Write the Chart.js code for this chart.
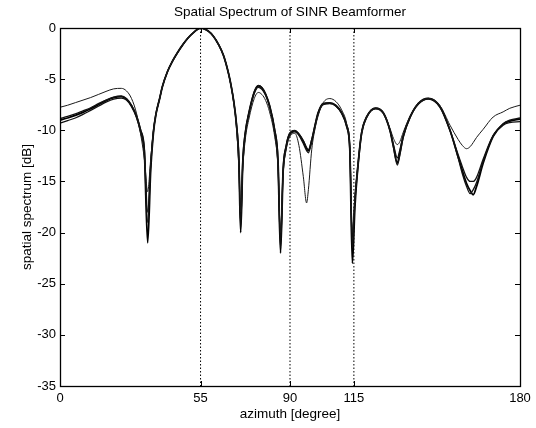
<!DOCTYPE html>
<html>
<head>
<meta charset="utf-8">
<script src="https://cdn.jsdelivr.net/npm/chart.js@4.4.1/dist/chart.umd.min.js"></script>
<style>
  html, body { margin: 0; padding: 0; background: #fff; }
  #wrap { width: 536px; height: 428px; position: relative; }
</style>
</head>
<body>
<div id="wrap"><canvas id="c" width="536" height="428"></canvas></div>
<script>
// ---- data ----
const chartTitle = 'Spatial Spectrum of SINR Beamformer';
const xLabel = 'azimuth [degree]';
const yLabel = 'spatial spectrum [dB]';
const xTickValues = [0, 55, 90, 115, 180];
const markerAngles = [55, 90, 115];

const azimuth = [
  0, 3, 6, 9, 12, 15, 18, 21, 24, 26,
  28, 30, 31.5, 33, 34.3, 35.5, 36.5, 37.5, 39, 40,
  42, 44, 46, 48, 50, 52, 54, 55, 56, 58,
  60, 62, 64, 66, 67, 68, 69, 70, 70.7, 71.5,
  72.5, 74, 76, 77.6, 79, 80.5, 82, 84, 85.3, 86.3,
  87.3, 88.5, 89.8, 91.9, 93.5, 95.2, 96.5, 97.2, 98.5, 100,
  101, 103, 105.6, 108, 110.2, 112.2, 113.4, 114.4, 115.4, 116.7,
  118, 120, 123.5, 126.5, 129.1, 130.5, 132, 133, 134.3, 137,
  140.2, 144.1, 148.7, 152.6, 155.8, 157.5, 159.1, 160.5, 161.7, 163,
  165.6, 169.5, 173.4, 176, 180
];

// thin curve
const spectrumA = [
  -7.75, -7.55, -7.3, -7.05, -6.8, -6.5, -6.2, -5.95, -5.9, -6.15,
  -6.9, -8.4, -10.3, -12.8, -16.0, -12.8, -10.2, -8.5, -6.9, -5.8,
  -4.3, -3.25, -2.4, -1.65, -1.0, -0.5, -0.1, 0, -0.05, -0.3,
  -0.8, -1.6, -2.7, -4.5, -5.8, -7.4, -9.6, -13.5, -18.0, -13.8,
  -10.9, -8.8, -6.9, -6.3, -6.5, -7.1, -8.2, -10.6, -13.5, -20.0,
  -14.3, -11.9, -10.7, -10.3, -11.5, -14.5, -17.1, -15.8, -11.9, -9.6,
  -8.6, -7.3, -6.9, -7.2, -8.0, -9.4, -11.6, -20.0, -16.5, -13.1,
  -10.3, -8.7, -7.85, -8.3, -9.8, -10.8, -11.4, -11.1, -10.2, -8.6,
  -7.4, -6.9, -7.6, -9.5, -10.9, -11.5, -11.8, -11.6, -11.2, -10.7,
  -9.9, -8.7, -8.2, -7.85, -7.55
];

// heavy group of curves
const spectrumB = [
  -9.0, -8.8, -8.55, -8.25, -7.9, -7.5, -7.1, -6.8, -6.7, -6.95,
  -7.6, -8.7, -10.0, -12.0, -21.0, -13.8, -10.4, -8.5, -6.9, -5.8,
  -4.3, -3.25, -2.4, -1.65, -1.0, -0.5, -0.1, 0, -0.05, -0.3,
  -0.8, -1.6, -2.7, -4.5, -5.7, -7.2, -9.3, -13.0, -20.0, -13.3,
  -10.3, -8.2, -6.3, -5.65, -5.85, -6.5, -7.6, -10.0, -13.0, -22.0,
  -14.0, -11.6, -10.4, -10.05, -10.4, -11.1, -11.8, -12.0, -11.0, -9.3,
  -8.3, -7.4, -7.35, -7.6, -8.3, -9.6, -11.8, -23.0, -17.5, -13.2,
  -10.3, -8.7, -7.85, -8.3, -10.0, -11.6, -13.2, -12.2, -10.6, -8.7,
  -7.4, -6.9, -7.7, -10.0, -12.6, -14.0, -15.2, -15.9, -16.3, -15.5,
  -13.2, -10.6, -9.4, -9.1, -8.9
];

const spectrumC = [
  -9.3, -9.05, -8.8, -8.45, -8.05, -7.65, -7.25, -6.95, -6.85, -7.05,
  -7.7, -8.8, -10.2, -12.4, -19.0, -13.5, -10.3, -8.5, -6.9, -5.8,
  -4.3, -3.25, -2.4, -1.65, -1.0, -0.5, -0.1, 0, -0.05, -0.3,
  -0.8, -1.6, -2.7, -4.5, -5.7, -7.2, -9.4, -13.4, -19.0, -13.5,
  -10.4, -8.3, -6.4, -5.8, -6.0, -6.6, -7.7, -10.2, -13.5, -21.0,
  -14.2, -11.7, -10.5, -10.15, -10.5, -11.3, -12.0, -12.2, -11.1, -9.4,
  -8.4, -7.5, -7.4, -7.65, -8.35, -9.7, -12.0, -21.5, -17.0, -13.3,
  -10.4, -8.75, -7.9, -8.35, -10.0, -11.4, -12.7, -11.9, -10.5, -8.7,
  -7.45, -6.95, -7.75, -10.0, -12.4, -13.6, -14.6, -15.0, -15.0, -14.6,
  -12.8, -10.5, -9.5, -9.25, -9.15
];

const spectrumD = [
  -8.85, -8.65, -8.4, -8.1, -7.8, -7.4, -7.05, -6.75, -6.65, -6.9,
  -7.55, -8.6, -9.9, -11.8, -18.0, -13.2, -10.1, -8.4, -6.85, -5.75,
  -4.3, -3.25, -2.4, -1.65, -1.0, -0.5, -0.1, 0, -0.05, -0.3,
  -0.8, -1.6, -2.7, -4.5, -5.7, -7.2, -9.2, -12.6, -19.5, -13.0,
  -10.2, -8.2, -6.2, -5.6, -5.8, -6.45, -7.55, -9.9, -12.8, -21.5,
  -13.8, -11.5, -10.3, -10.0, -10.35, -11.0, -11.7, -11.9, -10.9, -9.25,
  -8.3, -7.4, -7.3, -7.55, -8.25, -9.5, -11.6, -20.5, -16.5, -13.0,
  -10.2, -8.65, -7.8, -8.25, -9.95, -11.7, -13.4, -12.4, -10.7, -8.75,
  -7.35, -6.85, -7.65, -10.0, -12.7, -14.3, -15.5, -16.2, -15.8, -15.1,
  -13.0, -10.55, -9.35, -9.0, -8.8
];

const yMin = -35, yMax = 0, yStep = 5;

// ---- chart ----
const FONT = "'Liberation Sans', Arial, Helvetica, sans-serif";
const toPts = arr => azimuth.map((x, i) => ({ x: x, y: arr[i] }));

const curveStyle = (arr, w, col) => ({
  data: toPts(arr), borderColor: col, borderWidth: w, pointRadius: 0,
  cubicInterpolationMode: 'monotone', fill: false, order: 1
});

const datasets = [
  curveStyle(spectrumA, 1, '#1a1a1a'),
  curveStyle(spectrumC, 1.3, '#111'),
  curveStyle(spectrumD, 1.3, '#111'),
  curveStyle(spectrumB, 1.8, '#000')
];
markerAngles.forEach(a => {
  datasets.push({
    data: [{ x: a, y: yMax }, { x: a, y: yMin }],
    borderColor: '#000', borderWidth: 1, borderDash: [1.5, 2],
    pointRadius: 0, fill: false, order: 2
  });
});

const framePlugin = {
  id: 'frame',
  afterDatasetsDraw(chart) {
    const { ctx, chartArea: a, scales } = chart;
    ctx.save();
    ctx.strokeStyle = '#000';
    ctx.lineWidth = 1;
    ctx.beginPath();
    const L = 5;
    scales.y.ticks.forEach(t => {
      const py = Math.round(scales.y.getPixelForValue(t.value)) + 0.5;
      ctx.moveTo(a.left, py); ctx.lineTo(a.left + L, py);
      ctx.moveTo(a.right, py); ctx.lineTo(a.right - L, py);
    });
    scales.x.ticks.forEach(t => {
      const px = Math.round(scales.x.getPixelForValue(t.value)) + 0.5;
      ctx.moveTo(px, a.bottom); ctx.lineTo(px, a.bottom - L);
      ctx.moveTo(px, a.top); ctx.lineTo(px, a.top + L);
    });
    ctx.stroke();
    ctx.lineWidth = 1.3;
    ctx.strokeRect(Math.round(a.left) + 0.5, Math.round(a.top) + 0.5,
      Math.round(a.right - a.left), Math.round(a.bottom - a.top));
    ctx.restore();
  }
};

new Chart(document.getElementById('c'), {
  type: 'line',
  data: { datasets },
  plugins: [framePlugin],
  options: {
    responsive: false,
    animation: false,
    layout: { padding: { left: 0, right: 16, top: 0, bottom: 0 } },
    plugins: {
      legend: { display: false },
      tooltip: { enabled: false },
      title: { display: false }
    },
    scales: {
      x: {
        type: 'linear', min: 0, max: 180,
        afterBuildTicks: s => { s.ticks = xTickValues.map(v => ({ value: v })); },
        afterFit: s => { s.height = 42; },
        grid: { display: false, drawTicks: false },
        border: { display: false },
        ticks: { color: '#000', font: { family: FONT, size: 13 }, padding: 5, maxRotation: 0, autoSkip: false },
        title: { display: true, text: xLabel, color: '#000', font: { family: FONT, size: 13.5 }, padding: { top: 0, bottom: 6 } }
      },
      xTop: {
        type: 'linear', position: 'top', min: 0, max: 180,
        afterFit: s => { s.height = 28; },
        grid: { display: false, drawTicks: false },
        border: { display: false },
        ticks: { display: false },
        title: { display: true, text: chartTitle, color: '#000', font: { family: FONT, size: 13.5 }, padding: { top: 4, bottom: 0 } }
      },
      y: {
        min: yMin, max: yMax,
        afterFit: s => { s.width = 60; },
        grid: { display: false, drawTicks: false },
        border: { display: false },
        ticks: { stepSize: yStep, color: '#000', font: { family: FONT, size: 13 }, padding: 4 },
        title: { display: true, text: yLabel, color: '#000', font: { family: FONT, size: 13.5 }, padding: { top: 19, bottom: 0 } }
      }
    }
  }
});
</script>
</body>
</html>
